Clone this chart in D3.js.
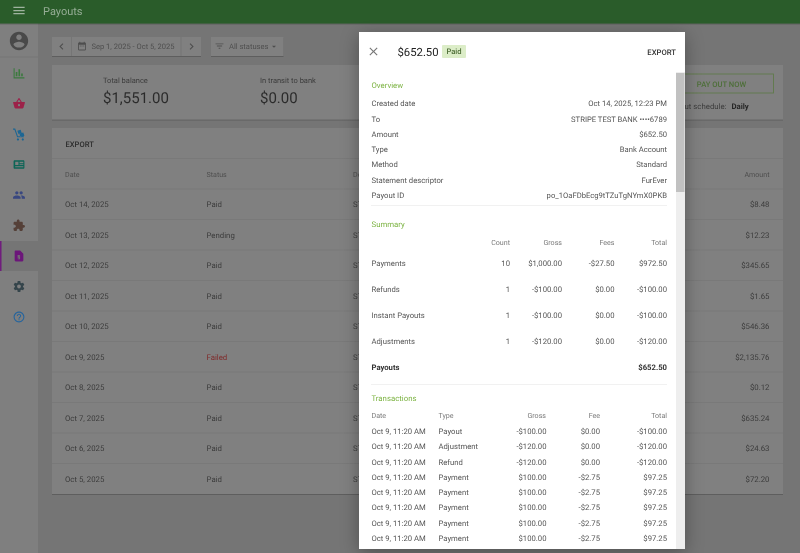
<!DOCTYPE html>
<html>
<head>
<meta charset="utf-8">
<script src="https://cdn.jsdelivr.net/npm/d3@7"></script>
<style>
  body { margin: 0; background: #757575; overflow: hidden; }
  svg { display: block; font-family: Roboto, sans-serif; text-rendering: geometricPrecision; }
</style>
</head>
<body>
<div id="page"></div>
<script>
// payouts table behind the dialog
const payoutDates = ["Oct 14, 2025","Oct 13, 2025","Oct 12, 2025","Oct 11, 2025","Oct 10, 2025","Oct 9, 2025","Oct 8, 2025","Oct 7, 2025","Oct 6, 2025","Oct 5, 2025"];
const payoutStatus = ["Paid","Pending","Paid","Paid","Paid","Failed","Paid","Paid","Paid","Paid"];
const payoutAmounts = ["$8.48","$12.23","$345.65","$1.65","$546.36","$2,135.76","$0.12","$635.24","$24.63","$72.20"];

// dialog contents
const overviewLabels = ["Created date","To","Amount","Type","Method","Statement descriptor","Payout ID"];
const overviewValues = ["Oct 14, 2025, 12:23 PM","STRIPE TEST BANK \u2022\u2022\u2022\u20226789","$652.50","Bank Account","Standard","FurEver","po_1OaFDbEcg9tTZuTgNYmX0PKB"];

const summaryHeads = ["Count","Gross","Fees","Total"];
const summaryNames = ["Payments","Refunds","Instant Payouts","Adjustments"];
const summaryCount = ["10","1","1","1"];
const summaryGross = ["$1,000.00","-$100.00","-$100.00","-$120.00"];
const summaryFees = ["-$27.50","$0.00","$0.00","$0.00"];
const summaryTotal = ["$972.50","-$100.00","-$100.00","-$120.00"];

const txHeads = ["Date","Type","Gross","Fee","Total"];
const txDates = ["Oct 9, 11:20 AM","Oct 9, 11:20 AM","Oct 9, 11:20 AM","Oct 9, 11:20 AM","Oct 9, 11:20 AM","Oct 9, 11:20 AM","Oct 9, 11:20 AM","Oct 9, 11:20 AM"];
const txTypes = ["Payout","Adjustment","Refund","Payment","Payment","Payment","Payment","Payment"];
const txGross = ["-$100.00","-$120.00","-$120.00","$100.00","$100.00","$100.00","$100.00","$100.00"];
const txFee = ["$0.00","$0.00","$0.00","-$2.75","-$2.75","-$2.75","-$2.75","-$2.75"];
const txTotal = ["-$100.00","-$120.00","-$120.00","$97.25","$97.25","$97.25","$97.25","$97.25"];

// material style icon paths (24x24)
const icons = {
  menu: "M3 18h18v-2H3v2zm0-5h18v-2H3v2zm0-7v2h18V6H3z",
  account: "M12 2C6.48 2 2 6.48 2 12s4.48 10 10 10 10-4.48 10-10S17.52 2 12 2zm0 3c1.66 0 3 1.34 3 3s-1.34 3-3 3-3-1.34-3-3 1.34-3 3-3zm0 14.2c-2.5 0-4.71-1.28-6-3.22.03-1.99 4-3.08 6-3.08 1.99 0 5.97 1.09 6 3.08-1.29 1.94-3.5 3.22-6 3.22z",
  close: "M19 6.41L17.59 5 12 10.59 6.41 5 5 6.41 10.59 12 5 17.59 6.41 19 12 13.41 17.59 19 19 17.59 13.41 12z",
  left: "M15.41 7.41L14 6l-6 6 6 6 1.41-1.41L10.83 12z",
  right: "M10 6L8.59 7.41 13.17 12l-4.58 4.59L10 18l6-6z",
  filter: "M10 18h4v-2h-4v2zM3 6v2h18V6H3zm3 7h12v-2H6v2z",
  drop: "M7 10l5 5 5-5z",
  date: "M9 11H7v2h2v-2zm4 0h-2v2h2v-2zm4 0h-2v2h2v-2zm2-7h-1V2h-2v2H8V2H6v2H5c-1.11 0-1.99.9-1.99 2L3 20c0 1.1.89 2 2 2h14c1.1 0 2-.9 2-2V6c0-1.1-.9-2-2-2zm0 16H5V9h14v11z",
  bars: "M2 3h2v17h18v2H2zM6 10h3v8H6zM11 5h3v13h-3zM16 13h3v5h-3z",
  basket: "M17.21 9l-4.38-6.56c-.19-.28-.51-.42-.83-.42-.32 0-.64.14-.83.43L6.79 9H2c-.55 0-1 .45-1 1 0 .09.01.18.04.27l2.54 9.27c.23.84 1 1.46 1.92 1.46h13c.92 0 1.69-.62 1.93-1.46l2.54-9.27L23 10c0-.55-.45-1-1-1h-4.79zM9 9l3-4.4L15 9H9zm3 8c-1.1 0-2-.9-2-2s.9-2 2-2 2 .9 2 2-.9 2-2 2z",
  dolly: "M1 2h4l5 14h11v2H8.6L3.6 4H1zM9 6l6-2 2 6-6 2zM13 11l7-2 2 6-8 2zM10 20a2 2 0 1 0 .01 0zM19 20a2 2 0 1 0 .01 0z",
  card: "M4 4h16c1.1 0 2 .9 2 2v12c0 1.1-.9 2-2 2H4c-1.1 0-2-.9-2-2V6c0-1.1.9-2 2-2zm1 3v6h6V7zm8 0v2h7V7zm0 3.5v2h7v-2zM5 15v2h15v-2z",
  people: "M16 11c1.66 0 2.99-1.34 2.99-3S17.66 5 16 5c-1.66 0-3 1.34-3 3s1.34 3 3 3zm-8 0c1.66 0 2.99-1.34 2.99-3S9.66 5 8 5C6.34 5 5 6.34 5 8s1.34 3 3 3zm0 2c-2.33 0-7 1.17-7 3.5V19h14v-2.5c0-2.33-4.67-3.5-7-3.5zm8 0c-.29 0-.62.02-.97.05 1.16.84 1.97 1.97 1.97 3.45V19h6v-2.5c0-2.33-4.67-3.5-7-3.5z",
  puzzle: "M20.5 11H19V7c0-1.1-.9-2-2-2h-4V3.5C13 2.12 11.88 1 10.5 1S8 2.12 8 3.5V5H4c-1.1 0-1.99.9-1.99 2v3.8H3.5c1.49 0 2.7 1.21 2.7 2.7s-1.21 2.7-2.7 2.7H2V20c0 1.1.9 2 2 2h3.8v-1.5c0-1.49 1.21-2.7 2.7-2.7 1.49 0 2.7 1.21 2.7 2.7V22H17c1.1 0 2-.9 2-2v-4h1.5c1.38 0 2.5-1.12 2.5-2.5S21.88 11 20.5 11z",
  doc: "M6 2c-1.1 0-2 .9-2 2v16c0 1.1.9 2 2 2h12c1.1 0 2-.9 2-2V8l-6-6H6zm3.5 8H14v1.6h-3v1h3V18H9.5v-1.6h3v-1h-3z",
  settings: "M19.43 12.98c.04-.32.07-.64.07-.98s-.03-.66-.07-.98l2.11-1.65c.19-.15.24-.42.12-.64l-2-3.46c-.12-.22-.39-.3-.61-.22l-2.49 1c-.52-.4-1.08-.73-1.69-.98l-.38-2.65C14.46 2.18 14.25 2 14 2h-4c-.25 0-.46.18-.49.42l-.38 2.65c-.61.25-1.17.59-1.69.98l-2.49-1c-.23-.09-.49 0-.61.22l-2 3.46c-.13.22-.07.49.12.64l2.11 1.65c-.04.32-.07.65-.07.98s.03.66.07.98l-2.11 1.65c-.19.15-.24.42-.12.64l2 3.46c.12.22.39.3.61.22l2.49-1c.52.4 1.08.73 1.69.98l.38 2.65c.03.24.24.42.49.42h4c.25 0 .46-.18.49-.42l.38-2.65c.61-.25 1.17-.59 1.69-.98l2.49 1c.23.09.49 0 .61-.22l2-3.46c.12-.22.07-.49-.12-.64l-2.11-1.65zM12 15.5c-1.93 0-3.5-1.57-3.5-3.5s1.57-3.5 3.5-3.5 3.5 1.57 3.5 3.5-1.57 3.5-3.5 3.5z",
  help: "M11 18h2v-2h-2v2zm1-16C6.48 2 2 6.48 2 12s4.48 10 10 10 10-4.48 10-10S17.52 2 12 2zm0 18c-4.41 0-8-3.59-8-8s3.59-8 8-8 8 3.59 8 8-3.59 8-8 8zm0-14c-2.21 0-4 1.79-4 4h2c0-1.1.9-2 2-2s2 .9 2 2c0 2-3 1.75-3 5h2c0-2.25 3-2.5 3-5 0-2.21-1.79-4-4-4z"
};
const navIcons = ["bars","basket","dolly","card","people","puzzle","doc","settings","help"];
const navColors = ["#3b7a3e","#9c2149","#1c6694","#0e6557","#394680","#544039","#6c187a","#35444c","#28659c"];

const width = 800, height = 553;
const svg = d3.select("#page").append("svg")
  .attr("width", width).attr("height", height)
  .attr("viewBox", "0 0 " + width + " " + height);

const defs = svg.append("defs");
const soft = defs.append("filter").attr("id", "soft").attr("x", "-5%").attr("y", "-5%").attr("width", "110%").attr("height", "110%");
soft.append("feGaussianBlur").attr("stdDeviation", 0.32);
const shadow = defs.append("filter").attr("id", "shadow").attr("x", "-20%").attr("y", "-20%").attr("width", "140%").attr("height", "140%");
shadow.append("feDropShadow").attr("dx", 0).attr("dy", 4).attr("stdDeviation", 9).attr("flood-color", "#000").attr("flood-opacity", 0.32);
const cardShadow = defs.append("filter").attr("id", "cardShadow").attr("x", "-5%").attr("y", "-10%").attr("width", "110%").attr("height", "120%");
cardShadow.append("feDropShadow").attr("dx", 0).attr("dy", 0.7).attr("stdDeviation", 0.6).attr("flood-color", "#000").attr("flood-opacity", 0.28);
defs.append("clipPath").attr("id", "dialogClip").append("rect").attr("x", 359).attr("y", 32).attr("width", 317).attr("height", 517);

const root = svg.append("g").attr("filter", "url(#soft)");

function label(parent, x, y, str, size, color, anchor, weight) {
  return parent.append("text")
    .attr("x", x).attr("y", y)
    .attr("font-size", size)
    .attr("fill", color)
    .attr("text-anchor", anchor || "start")
    .attr("font-weight", weight || 400)
    .text(str);
}
function icon(parent, name, cx, cy, size, color) {
  const k = size / 24;
  return parent.append("path")
    .attr("d", icons[name])
    .attr("fill", color)
    .attr("fill-rule", "evenodd")
    .attr("transform", "translate(" + (cx - size / 2) + "," + (cy - size / 2) + ") scale(" + k + ")");
}
function box(parent, x, y, w, h, fill, filter) {
  const r = parent.append("rect").attr("x", x).attr("y", y).attr("width", w).attr("height", h).attr("fill", fill);
  if (filter) r.attr("filter", filter);
  return r;
}

const dimText = "#3b3b3b", dimSoft = "#4e4e4e", cardFill = "#808080";

// sidebar
box(root, 0, 0, 38, height, "#7f7f7f");
box(root, 38, 0, 8, height, "#757575");
root.append("line").attr("x1", 0).attr("x2", 38).attr("y1", 57).attr("y2", 57).attr("stroke", "#767676");
box(root, 0, 241, 38, 30, "#747474");
box(root, 0, 241, 1.5, 30, "#6f1a7d");
icon(root, "account", 19, 41, 22, "#4a4a4a");
const navY = d3.scalePoint().domain(navIcons).range([73, 317]);
navIcons.forEach(function(n, i) {
  icon(root, n, 19, navY(n), 13, navColors[i]);
});

// app bar
box(root, 0, 0, width, 23.5, "#2a5c2a", "url(#cardShadow)");
icon(root, "menu", 19, 10.5, 15, "#9fb39f");
label(root, 43, 14.5, "Payouts", 11, "#96ad96");

// toolbar
box(root, 52, 37, 149, 19, cardFill, "url(#cardShadow)");
box(root, 211, 37, 72.5, 19, cardFill, "url(#cardShadow)");
[71.5, 181].forEach(function(x) {
  root.append("line").attr("x1", x).attr("x2", x).attr("y1", 37).attr("y2", 56).attr("stroke", "#747474");
});
icon(root, "left", 61.5, 46.5, 13, dimSoft);
icon(root, "right", 191.5, 46.5, 13, dimSoft);
icon(root, "date", 82, 46, 10.5, dimSoft);
label(root, 91.5, 49.3, "Sep 1, 2025 - Oct 5, 2025", 7.55, dimSoft);
icon(root, "filter", 219.5, 46, 10.5, dimSoft);
label(root, 229, 49.3, "All statuses", 7.55, dimSoft);
icon(root, "drop", 274, 46.5, 10, dimSoft);

// balance card
box(root, 52, 65, 731, 54.5, cardFill, "url(#cardShadow)");
label(root, 103, 83, "Total balance", 7.5, dimText);
label(root, 103, 103, "$1,551.00", 15, "#2c2c2c");
label(root, 260, 83, "In transit to bank", 7.5, dimText);
label(root, 260, 103, "$0.00", 15, "#2c2c2c");
root.append("rect").attr("x", 680).attr("y", 74).attr("width", 93.5).attr("height", 19)
  .attr("fill", "none").attr("stroke", "#5f7a4a").attr("stroke-width", 0.9);
label(root, 721.5, 86.5, "PAY OUT NOW", 7.6, "#4d6e38", "middle", 500);
label(root, 726.5, 108.5, "Payout schedule:", 7.8, dimText, "end");
label(root, 731.5, 108.5, "Daily", 7.8, "#262626", "start", 700);

// payouts table
box(root, 52, 128, 731, 366, cardFill, "url(#cardShadow)");
label(root, 65.5, 146.5, "EXPORT", 7.6, "#2c2c2c", "start", 500);
const rowY = d3.scaleLinear().domain([0, 9]).range([207, 481.5]);
const ruleY = d3.scaleLinear().domain([0, 10]).range([158.5, 463.5]);
d3.range(0, 11).forEach(function(i) {
  root.append("line").attr("x1", 52).attr("x2", 783).attr("y1", ruleY(i)).attr("y2", ruleY(i)).attr("stroke", "#767676").attr("stroke-width", 0.7);
});
label(root, 65, 176.5, "Date", 7.1, dimSoft);
label(root, 206.5, 176.5, "Status", 7.1, dimSoft);
label(root, 353, 176.5, "De", 7.1, dimSoft);
label(root, 769.5, 176.5, "Amount", 7.1, dimSoft, "end");
root.append("g").selectAll("text.date").data(payoutDates).join("text").attr("class", "date")
  .attr("x", 65).attr("y", function(d, i) { return rowY(i); })
  .attr("font-size", 7.8).attr("fill", dimText).text(function(d) { return d; });
root.append("g").selectAll("text.status").data(payoutStatus).join("text").attr("class", "status")
  .attr("x", 206.5).attr("y", function(d, i) { return rowY(i); })
  .attr("font-size", 7.8).attr("fill", function(d) { return d == "Failed" ? "#7f2a2a" : dimText; })
  .text(function(d) { return d; });
root.append("g").selectAll("text.desc").data(payoutDates).join("text").attr("class", "desc")
  .attr("x", 353).attr("y", function(d, i) { return rowY(i); })
  .attr("font-size", 7.8).attr("fill", dimText).text("ST");
root.append("g").selectAll("text.amount").data(payoutAmounts).join("text").attr("class", "amount")
  .attr("x", 769.5).attr("y", function(d, i) { return rowY(i); })
  .attr("text-anchor", "end").attr("font-size", 7.8).attr("fill", dimText).text(function(d) { return d; });

// dialog
box(root, 359, 32, 326, 517, "#fff", "url(#shadow)");
const dialog = root.append("g").attr("clip-path", "url(#dialogClip)");
const ink = "#555", inkDark = "#222", head = "#7a7a7a", green = "#7cb342";

icon(root, "close", 373.5, 51.5, 14, "#777");
label(root, 397.5, 56, "$652.50", 11.3, inkDark);
root.append("rect").attr("x", 442).attr("y", 45).attr("width", 24).attr("height", 13).attr("rx", 1).attr("fill", "#dcedc8");
label(root, 454, 54.3, "Paid", 7.6, "#4f6f38", "middle", 500);
label(root, 676, 55, "EXPORT", 7.7, "#333", "end", 500);

// scrollbar
box(root, 676, 72, 9, 477, "#eeeeee");
box(root, 676, 73, 8.5, 119, "#c1c1c1");

const leftX = 371.5, rightX = 667;

label(dialog, leftX, 88, "Overview", 7.8, green);
const overviewY = d3.scaleLinear().domain([0, 6]).range([106.3, 197.8]);
overviewLabels.forEach(function(d, i) {
  label(dialog, leftX, overviewY(i), d, 7.7, ink);
  label(dialog, rightX, overviewY(i), overviewValues[i], 7.65, ink, "end");
});
function dots(y) {
  dialog.append("line").attr("x1", leftX).attr("x2", rightX).attr("y1", y).attr("y2", y)
    .attr("stroke", "#d8d8d8").attr("stroke-width", 0.7).attr("stroke-dasharray", "1 1");
}
dots(205.5);

label(dialog, leftX, 226.7, "Summary", 7.8, green);
const summaryCols = d3.scaleOrdinal().domain(summaryHeads).range([510, 562, 614.5, 667]);
summaryHeads.forEach(function(d) {
  label(dialog, summaryCols(d), 245, d, 7.1, head, "end");
});
const summaryY = d3.scaleLinear().domain([0, 3]).range([265.8, 343.8]);
summaryNames.forEach(function(d, i) {
  const y = summaryY(i);
  label(dialog, leftX, y, d, 7.7, ink);
  label(dialog, summaryCols("Count"), y, summaryCount[i], 7.7, ink, "end");
  label(dialog, summaryCols("Gross"), y, summaryGross[i], 7.7, ink, "end");
  label(dialog, summaryCols("Fees"), y, summaryFees[i], 7.7, ink, "end");
  label(dialog, summaryCols("Total"), y, summaryTotal[i], 7.7, ink, "end");
});
label(dialog, leftX, 369.9, "Payouts", 7.7, "#333", "start", 700);
label(dialog, rightX, 369.9, "$652.50", 7.7, "#333", "end", 700);
dots(384.5);

label(dialog, leftX, 400.5, "Transactions", 7.8, green);
label(dialog, leftX, 418, txHeads[0], 7.1, head);
label(dialog, 438.5, 418, txHeads[1], 7.1, head);
label(dialog, 546, 418, txHeads[2], 7.1, head, "end");
label(dialog, 600, 418, txHeads[3], 7.1, head, "end");
label(dialog, rightX, 418, txHeads[4], 7.1, head, "end");
const txY = d3.scaleLinear().domain([0, 7]).range([434.2, 541]);
txDates.forEach(function(d, i) {
  const y = txY(i);
  label(dialog, leftX, y, d, 7.7, ink);
  label(dialog, 438.5, y, txTypes[i], 7.7, ink);
  label(dialog, 546.5, y, txGross[i], 7.7, ink, "end");
  label(dialog, 600, y, txFee[i], 7.7, ink, "end");
  label(dialog, rightX, y, txTotal[i], 7.7, ink, "end");
});
</script>
</body>
</html>
